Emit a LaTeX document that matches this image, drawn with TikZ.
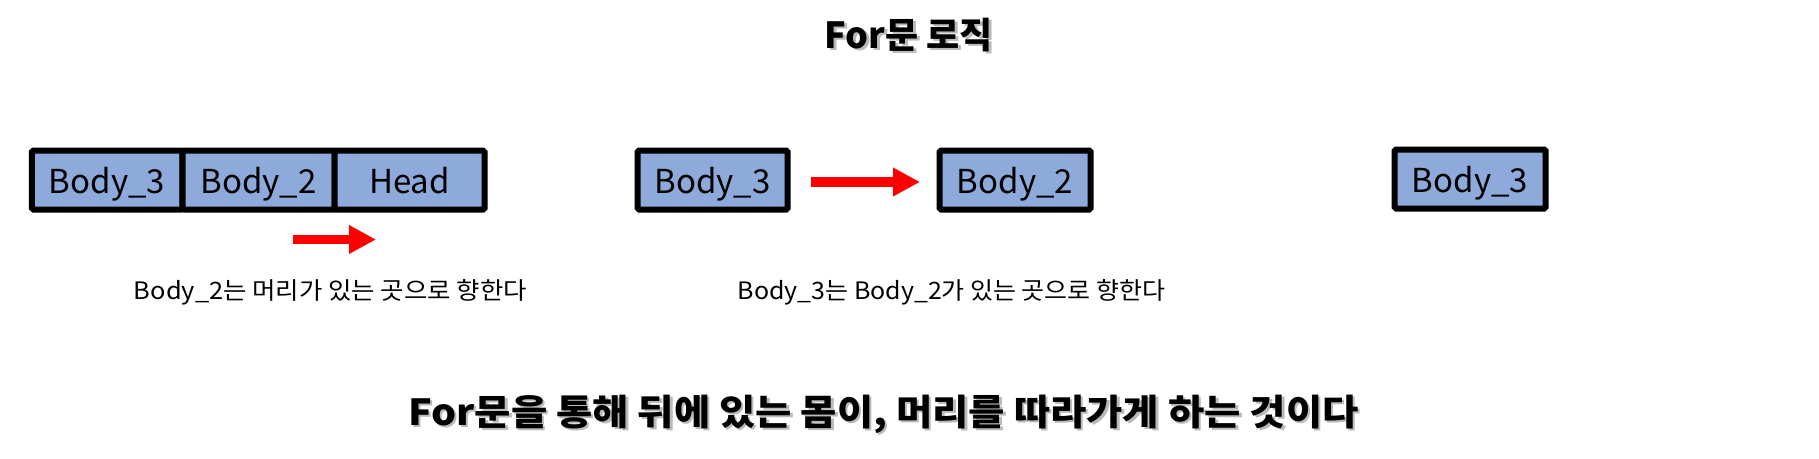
\documentclass[tikz,border=0pt]{standalone}
\usepackage{fontspec}
\setmainfont{Noto Sans CJK KR}
\usetikzlibrary{arrows.meta}
\definecolor{boxblue}{HTML}{8EAADB}
\definecolor{arrred}{HTML}{FF0000}
\tikzset{
  seg/.style={draw=black, fill=boxblue, line width=6pt, rounded corners=1.5pt,
    minimum height=59pt, inner sep=0pt, text height=26pt, text depth=0pt,
    font=\fontsize{33}{38}\selectfont},
  redarrow/.style={draw=arrred, line width=9.5pt,
    -{Triangle[length=27pt,width=27pt]}},
  note/.style={inner sep=0pt, font=\fontsize{24}{28}\selectfont},
  headline/.style={inner sep=0pt, font=\fontsize{36}{40}\selectfont\bfseries},
  shadowtext/.style={inner sep=0pt, text=black!45, opacity=0.6,
    font=\fontsize{36}{40}\selectfont\bfseries}
}
\newcommand{\wider}[2]{\scalebox{#1}[1]{#2}}
\begin{document}
\begin{tikzpicture}[x=1pt,y=1pt]
\useasboundingbox (0,0) rectangle (1819,-458);
% title
\node[shadowtext] (ts) at (911.5,-37.5) {For문 로직};
\node[headline] (title) at (909,-35) {For문 로직};
% left snake
\node[seg, minimum width=150.5pt] (l3) at (107,-180) {Body\_3};
\node[seg, minimum width=152pt] (l2) at (258.5,-180) {Body\_2};
\node[seg, minimum width=150pt] (lh) at (409.5,-180) {Head};
\coordinate (s1) at (293,-239.5);
\coordinate (s2) at (376,-239.5);
\draw[redarrow] (s1) -- (s2);
% middle
\node[seg, minimum width=150pt] (m3) at (712.5,-180) {Body\_3};
\node[seg, minimum width=151pt] (m2) at (1015,-180) {Body\_2};
\draw[redarrow] ([xshift=20.5pt,yshift=-2pt]m3.east) -- ([xshift=-16.5pt,yshift=-2pt]m2.west);
% right
\node[seg, minimum width=151pt] (r3) at (1470,-179) {Body\_3};
% notes
\node[note] (n1) at (330.5,-292) {\wider{1.06}{Body\_2는 머리가 있는 곳으로 향한다}};
\node[note] (n2) at (951.5,-292) {\wider{1.04}{Body\_3는 Body\_2가 있는 곳으로 향한다}};
% bottom
\node[shadowtext] (bs) at (886,-416.5) {\wider{1.095}{For문을 통해 뒤에 있는 몸이, 머리를 따라가게 하는 것이다}};
\node[headline] (bottom) at (883.5,-414) {\wider{1.095}{For문을 통해 뒤에 있는 몸이, 머리를 따라가게 하는 것이다}};
\end{tikzpicture}
\end{document}
